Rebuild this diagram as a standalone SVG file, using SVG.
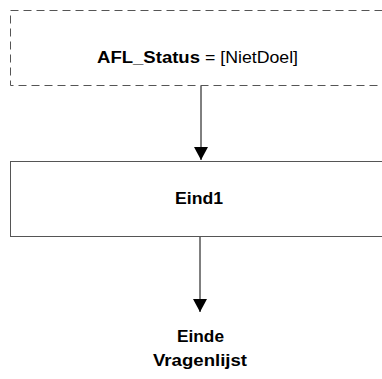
<svg xmlns="http://www.w3.org/2000/svg" width="382" height="379" viewBox="0 0 382 379">
<style>
.t{font-family:"Liberation Sans",Arial,sans-serif;font-size:16px;fill:#000}
.m{text-anchor:middle;font-size:16.5px}
.b{font-weight:bold}
.box{fill:#fff;stroke:#555;stroke-width:1}
.dash{stroke-dasharray:8,5}
.c{stroke:#000;stroke-width:1;fill:none}
</style>
<defs>
<marker id="ah" markerWidth="14" markerHeight="14" refX="13" refY="7" orient="auto" markerUnits="userSpaceOnUse">
<path d="M0,0 L13,7 L0,14 Z" fill="#000"/>
</marker>
</defs>
<rect width="382" height="379" fill="#fff"/>
<g id="n1">
<rect class="box dash" x="10.5" y="10.5" width="380" height="75"/>
<text class="t b" x="97" y="63" textLength="103" lengthAdjust="spacingAndGlyphs">AFL_Status</text>
<text class="t" x="205" y="63" textLength="93" lengthAdjust="spacingAndGlyphs">= [NietDoel]</text>
</g>
<g id="n2">
<rect class="box" x="10.5" y="161.5" width="380" height="75"/>
<text class="t b m" x="199" y="204" textLength="48" lengthAdjust="spacingAndGlyphs">Eind1</text>
</g>
<g id="n3">
<text class="t b m" x="200.5" y="342" textLength="47" lengthAdjust="spacingAndGlyphs">Einde</text>
<text class="t b m" x="200" y="366" textLength="94" lengthAdjust="spacingAndGlyphs">Vragenlijst</text>
</g>
<g id="connectors">
<line class="c" x1="201" y1="86" x2="201" y2="160" marker-end="url(#ah)"/>
<line class="c" x1="200" y1="237" x2="200" y2="312" marker-end="url(#ah)"/>
</g>
</svg>
